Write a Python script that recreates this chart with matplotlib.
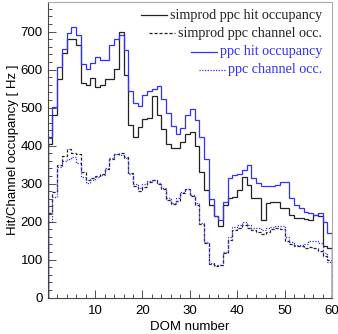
import numpy as np
import matplotlib.pyplot as plt
from matplotlib.lines import Line2D

# DOM numbers 1..60, one bin each
dom_edges = np.arange(0, 61)

simprod_hit = [405, 481, 575, 645, 680, 680, 665, 564, 559, 578,
               554, 560, 575, 575, 601, 700, 586, 455, 422, 448,
               470, 472, 531, 480, 445, 404, 393, 393, 410, 432,
               435, 400, 330, 283, 245, 215, 188, 244, 262, 265,
               283, 318, 296, 262, 262, 204, 248, 253, 253, 237,
               237, 218, 211, 210, 208, 204, 218, 215, 137, 130]
simprod_chan = [222, 278, 349, 372, 392, 382, 378, 330, 310, 315,
                320, 326, 338, 365, 378, 380, 370, 328, 295, 280,
                292, 304, 310, 298, 285, 258, 246, 255, 275, 285,
                268, 245, 193, 145, 88, 84, 86, 118, 152, 178,
                183, 190, 183, 178, 172, 168, 172, 180, 184, 182,
                150, 140, 135, 135, 132, 133, 132, 122, 110, 100]
ppc_hit = [422, 501, 608, 654, 696, 711, 692, 615, 601, 617,
           633, 626, 626, 665, 680, 690, 652, 545, 512, 505,
           533, 545, 550, 558, 522, 485, 452, 430, 446, 480,
           496, 467, 424, 365, 260, 215, 204, 253, 314, 322,
           325, 336, 349, 314, 301, 295, 295, 295, 297, 305,
           305, 262, 244, 235, 226, 224, 218, 222, 200, 170]
ppc_chan = [200, 266, 345, 360, 364, 370, 354, 318, 302, 310,
            317, 323, 340, 368, 377, 375, 368, 325, 300, 288,
            298, 306, 310, 303, 288, 262, 250, 262, 279, 287,
            270, 248, 196, 147, 90, 86, 86, 121, 160, 187,
            192, 198, 191, 183, 183, 178, 183, 186, 188, 188,
            160, 146, 139, 139, 142, 148, 150, 145, 118, 95]

labels = ['simprod ppc hit occupancy', 'simprod ppc channel occ.',
          'ppc hit occupancy', 'ppc channel occ.']

black = '#222222'
blue = '#3030ff'

fig = plt.figure(figsize=(3.38, 3.34), dpi=100)
ax = fig.add_axes([47.7/338, 36.3/334, 284.3/338, 295.7/334])

ax.stairs(simprod_hit, dom_edges, color=black, lw=0.9)
ax.stairs(simprod_chan, dom_edges, color=black, lw=0.9, linestyle=(0, (2.5, 1.5)))
ax.stairs(ppc_hit, dom_edges, color=blue, lw=0.9)
ax.stairs(ppc_chan, dom_edges, color=blue, lw=0.9, linestyle=(0, (1, 1.2)))

ax.set_xlim(0, 60)
ax.set_ylim(0, 778)
ax.set_xticks(np.arange(10, 61, 10))
ax.set_xticks(np.arange(0, 61, 2), minor=True)
ax.set_yticks(np.arange(0, 701, 100))
ax.set_yticks(np.arange(0, 778, 20), minor=True)
ax.tick_params(which='both', direction='in', top=False, right=False,
               labelsize=9.5, colors='#333333', labelcolor='black')
ax.tick_params(which='major', length=6, width=0.6)
ax.tick_params(which='minor', length=3, width=0.6)
for lab in ax.get_xticklabels() + ax.get_yticklabels():
    lab.set_fontfamily('Liberation Sans')
ax.tick_params(axis='x', pad=5)

for s in ['left', 'bottom']:
    ax.spines[s].set_color('#444444')
    ax.spines[s].set_linewidth(0.8)
for s in ['top', 'right']:
    ax.spines[s].set_color('#aaaaaa')
    ax.spines[s].set_linewidth(0.8)

ax.set_xlabel('DOM number', fontsize=9.5, family='Liberation Sans', labelpad=3)
ax.set_ylabel('Hit/Channel occupancy [ Hz ]', fontsize=9.5, family='Liberation Sans', labelpad=1)

# legend: right aligned text, line sample placed before each text
fig.canvas.draw()
renderer = fig.canvas.get_renderer()
rows = [(labels[0], black, '-'), (labels[1], black, (0, (2.5, 1.5))),
        (labels[2], blue, '-'), (labels[3], blue, (0, (1, 1.2)))]
for i, (lab, col, ls) in enumerate(rows):
    ypx = 15 + 18.3*i
    t = fig.text(322/338, 1 - ypx/334, lab, ha='right', va='center',
                 fontsize=10.2, family='Liberation Serif', color=col)
    bb = t.get_window_extent(renderer)
    x1 = bb.x0 - 3
    x0 = x1 - 26
    fig.add_artist(Line2D([x0/338, x1/338], [1 - ypx/334, 1 - ypx/334],
                          transform=fig.transFigure, color=col, lw=0.9, linestyle=ls))

fig.savefig('out.png', dpi=100)
